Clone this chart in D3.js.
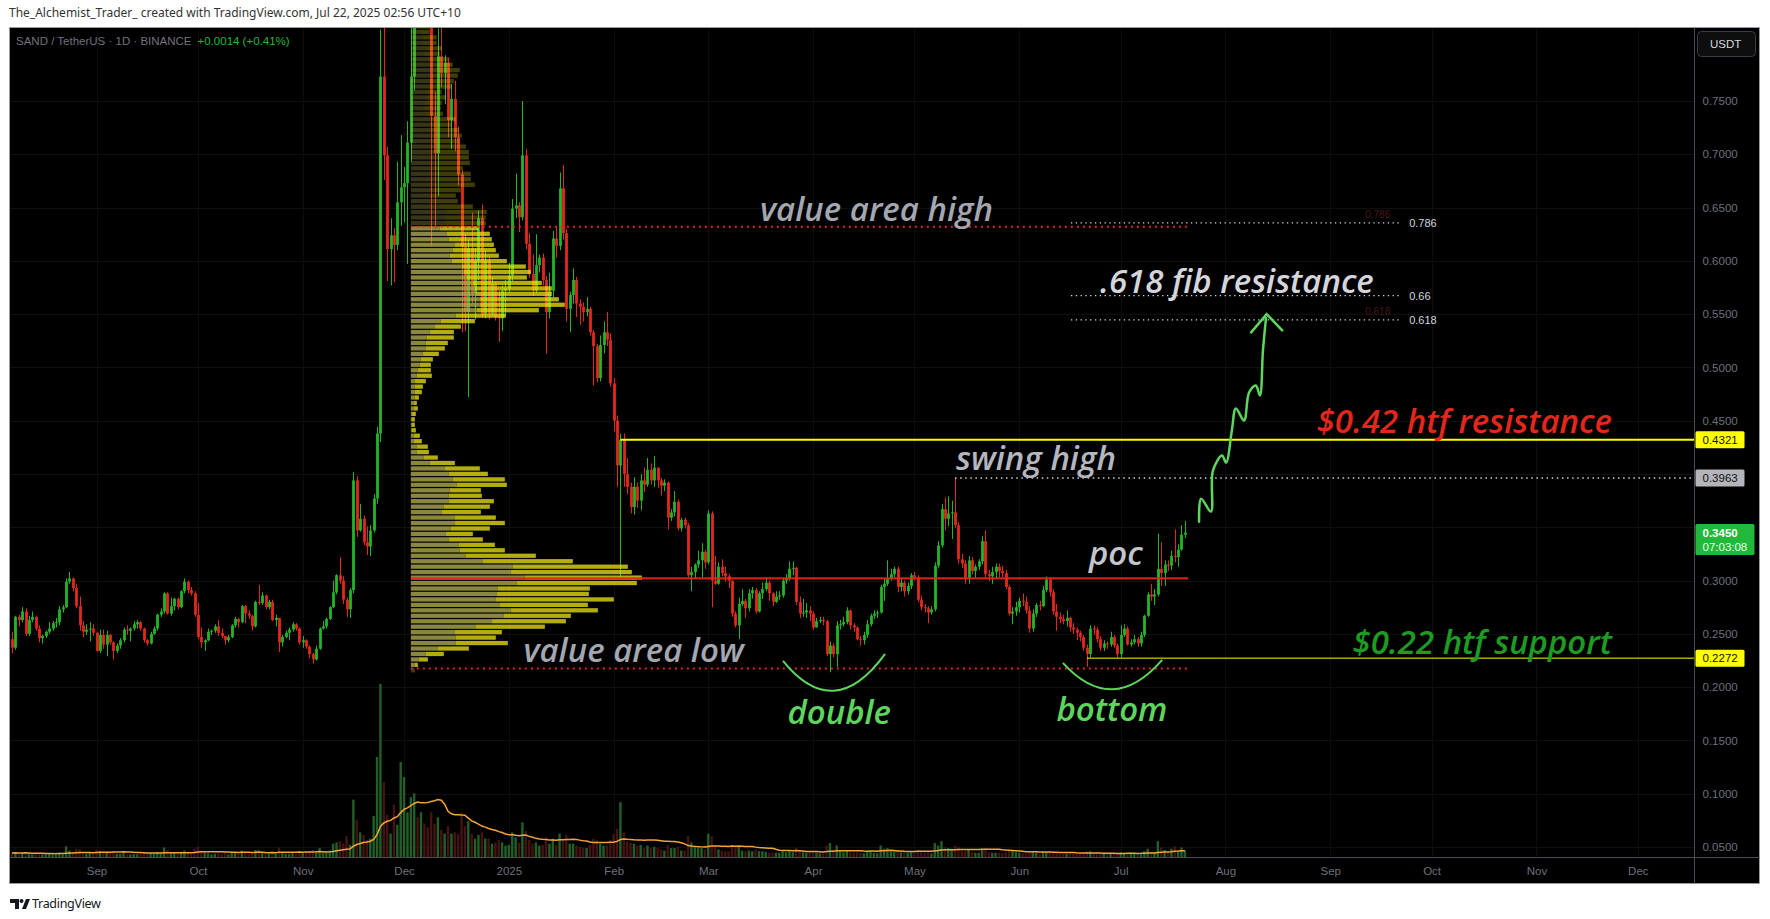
<!DOCTYPE html>
<html><head><meta charset="utf-8">
<script src="https://cdn.jsdelivr.net/npm/d3@7"></script>
<style>
body{margin:0;background:#fff;}
svg{display:block;}
.ann{font-family:"Open Sans",sans-serif;font-style:italic;font-weight:600;}
.ax{font-family:"Liberation Sans",Arial,sans-serif;}
</style></head>
<body>
<svg id="chart" width="1770" height="919"></svg>
<script>
// ---------------- DATA ----------------
const firstDay = "2024-08-07";   // date of first daily candle
const firstOpen = 0.245;
const closes = [
.237,.266,.263,.271,.250,.263,.266,.255,.246,.248,
.252,.255,.260,.261,.273,.275,.299,.302,.293,.276,
.258,.252,.254,.255,.251,.234,.249,.240,.249,.242,
.234,.239,.244,.254,.253,.255,.259,.261,.255,.244,
.241,.250,.255,.268,.271,.288,.269,.276,.283,.275,
.290,.299,.291,.288,.268,.247,.242,.244,.252,.253,
.257,.251,.248,.244,.247,.258,.264,.261,.276,.269,
.267,.257,.280,.279,.286,.275,.280,.263,.265,.242,
.247,.251,.254,.259,.255,.242,.244,.238,.231,.226,
.236,.255,.257,.264,.275,.289,.305,.300,.282,.273,
.291,.394,.347,.358,.336,.332,.347,.377,.438,.773,
.699,.611,.624,.615,.655,.669,.673,.711,.773,.880,
.850,.900,.870,.845,.736,.701,.792,.776,.786,.732,
.752,.716,.681,.613,.552,.612,.570,.600,.640,.550,
.600,.550,.578,.547,.546,.572,.574,.586,.649,.652,
.641,.699,.616,.588,.572,.596,.603,.582,.552,.572,
.621,.614,.668,.626,.555,.568,.582,.560,.557,.552,
.555,.533,.520,.490,.521,.533,.526,.485,.450,.408,
.432,.400,.388,.369,.388,.375,.394,.390,.404,.394,
.406,.394,.389,.392,.359,.364,.374,.349,.357,.352,
.305,.308,.315,.319,.327,.317,.363,.300,.297,.313,
.307,.304,.300,.269,.258,.278,.281,.274,.288,.291,
.271,.288,.292,.298,.288,.280,.285,.286,.300,.302,
.311,.312,.280,.269,.270,.272,.269,.256,.262,.263,
.262,.231,.239,.231,.258,.259,.261,.272,.258,.256,
.245,.244,.249,.259,.267,.269,.270,.294,.297,.302,
.306,.311,.294,.298,.290,.295,.305,.303,.282,.275,
.274,.270,.273,.314,.333,.367,.358,.363,.364,.352,
.320,.316,.302,.319,.309,.313,.318,.337,.306,.304,
.308,.313,.309,.307,.294,.269,.271,.275,.281,.280,
.272,.255,.269,.277,.276,.291,.301,.289,.271,.266,
.264,.262,.265,.256,.254,.251,.247,.237,.231,.255,
.254,.245,.237,.241,.240,.247,.239,.231,.249,.255,
.240,.242,.245,.241,.249,.267,.287,.285,.287,.311,
.307,.315,.314,.323,.322,.329,.343,.345];
const highs = [
.252,.267,.268,.275,.274,.267,.271,.267,.258,.249,
.253,.261,.262,.265,.276,.277,.302,.308,.303,.297,
.285,.262,.259,.261,.259,.252,.254,.254,.253,.250,
.243,.241,.246,.256,.258,.256,.262,.263,.262,.256,
.245,.252,.257,.269,.274,.289,.289,.284,.284,.284,
.291,.302,.300,.294,.290,.279,.256,.245,.255,.254,
.259,.263,.255,.248,.249,.259,.266,.265,.277,.277,
.272,.268,.281,.296,.289,.287,.282,.282,.268,.265,
.249,.253,.256,.261,.260,.256,.248,.245,.239,.232,
.239,.256,.262,.265,.276,.300,.306,.322,.304,.284,
.293,.402,.398,.372,.361,.351,.352,.381,.444,.817,
.860,.707,.640,.631,.693,.718,.688,.731,.830,.930,
.920,.955,.920,.890,.850,.758,.818,.830,.793,.791,
.766,.769,.726,.685,.625,.620,.645,.612,.647,.653,
.610,.604,.585,.580,.572,.577,.582,.598,.658,.682,
.655,.750,.705,.626,.606,.625,.606,.607,.586,.589,
.628,.632,.683,.690,.630,.571,.593,.585,.564,.561,
.566,.557,.535,.522,.530,.543,.552,.532,.490,.455,
.438,.438,.415,.392,.397,.392,.400,.406,.415,.410,
.417,.406,.396,.395,.393,.367,.384,.376,.359,.359,
.354,.313,.316,.328,.335,.329,.366,.365,.323,.317,
.320,.313,.306,.300,.271,.284,.292,.283,.292,.294,
.293,.290,.298,.303,.300,.289,.290,.290,.302,.306,
.318,.318,.313,.285,.283,.279,.276,.271,.265,.266,
.266,.263,.243,.241,.262,.263,.266,.275,.273,.260,
.257,.248,.252,.263,.269,.272,.272,.296,.302,.319,
.311,.313,.313,.302,.300,.298,.307,.308,.305,.286,
.278,.276,.276,.317,.337,.372,.378,.379,.375,.3963,
.355,.325,.319,.323,.322,.315,.320,.342,.347,.310,
.313,.316,.316,.314,.310,.296,.275,.280,.284,.288,
.285,.276,.273,.279,.281,.295,.304,.303,.292,.278,
.270,.268,.272,.266,.260,.256,.253,.249,.240,.258,
.258,.256,.248,.244,.243,.252,.249,.241,.258,.259,
.257,.245,.249,.247,.252,.268,.289,.297,.292,.344,
.336,.319,.319,.328,.348,.334,.352,.356];
const lows = [
.232,.235,.257,.261,.248,.248,.261,.253,.242,.241,
.246,.250,.253,.256,.258,.270,.274,.297,.290,.274,
.253,.247,.249,.243,.248,.233,.232,.236,.229,.240,
.226,.232,.236,.242,.249,.243,.253,.255,.253,.242,
.239,.240,.249,.253,.266,.269,.268,.267,.272,.273,
.274,.288,.288,.286,.266,.245,.237,.234,.243,.249,
.251,.248,.246,.240,.242,.246,.256,.256,.260,.260,
.264,.253,.256,.277,.277,.273,.273,.262,.257,.233,
.238,.246,.244,.252,.253,.240,.237,.236,.227,.222,
.225,.235,.254,.255,.263,.274,.287,.297,.278,.266,
.265,.288,.341,.346,.333,.324,.323,.345,.372,.430,
.676,.581,.577,.580,.610,.633,.636,.597,.693,.760,
.828,.835,.835,.825,.614,.632,.661,.763,.747,.716,
.705,.703,.671,.533,.534,.472,.560,.545,.582,.547,
.546,.545,.548,.544,.524,.534,.548,.570,.581,.640,
.627,.638,.611,.584,.567,.570,.589,.577,.513,.546,
.566,.603,.610,.620,.543,.533,.560,.547,.540,.543,
.548,.530,.483,.486,.487,.513,.520,.482,.440,.388,
.303,.388,.381,.363,.362,.368,.366,.383,.388,.390,
.388,.387,.380,.384,.348,.356,.360,.347,.346,.349,
.303,.290,.302,.312,.303,.311,.315,.275,.296,.296,
.304,.299,.293,.266,.256,.245,.276,.265,.271,.283,
.269,.270,.283,.290,.281,.276,.279,.282,.284,.297,
.300,.305,.277,.265,.266,.265,.262,.254,.256,.260,
.258,.229,.214,.228,.219,.254,.257,.259,.254,.252,
.244,.239,.240,.246,.257,.264,.265,.269,.281,.295,
.300,.303,.289,.290,.285,.287,.292,.300,.280,.272,
.270,.260,.268,.271,.312,.331,.347,.351,.339,.349,
.316,.312,.297,.297,.306,.302,.310,.315,.303,.300,
.297,.302,.303,.303,.292,.267,.259,.267,.270,.276,
.269,.251,.252,.266,.272,.275,.289,.285,.268,.253,
.260,.259,.257,.252,.250,.244,.243,.234,.219,.228,
.249,.242,.234,.234,.236,.238,.237,.228,.228,.247,
.239,.238,.240,.238,.238,.247,.266,.281,.277,.285,
.295,.295,.309,.310,.317,.313,.328,.340];
// daily volume, millions of SAND
const volumes = [
35,40,30,35,45,30,25,30,35,25, 25,30,25,20,40,25,90,55,40,70,
65,40,30,35,30,60,50,40,45,35, 45,30,30,40,25,25,30,25,30,40,
30,35,30,45,35,80,60,40,35,30, 45,55,40,30,70,85,55,40,35,25,
30,35,30,35,25,40,40,30,55,40, 30,40,60,65,40,45,30,50,30,80,
45,30,30,35,30,55,35,40,50,60, 50,75,40,40,55,110,120,130,110,170,
100,460,300,200,180,140,150,330,800,1380, 600,340,190,420,260,760,640,360,480,510,
320,360,270,240,360,270,320,220,190,250, 190,200,190,360,250,290,190,150,180,200,
150,150,110,120,140,120,95,100,200,160, 120,280,210,140,110,120,95,100,160,110,
150,100,190,140,180,110,110,95,85,75, 75,100,150,140,110,95,100,140,190,230,
440,200,130,120,110,95,100,75,95,75, 85,75,65,55,100,75,75,85,55,55,
170,120,85,75,75,65,190,170,95,65, 55,50,50,100,95,85,55,50,55,50,
65,50,50,45,40,40,38,38,50,42, 50,42,75,55,42,38,42,50,38,33,
33,95,115,55,95,50,42,50,42,38, 42,38,33,42,50,38,33,95,70,75,
50,50,60,42,42,38,42,38,60,42, 38,42,33,115,95,130,85,75,70,95,
85,50,50,60,42,38,38,70,75,42, 38,38,38,33,42,70,50,42,38,38,
33,50,42,38,28,42,42,42,42,38, 28,28,28,33,28,28,28,33,50,50,
33,28,33,28,28,28,28,33,42,38, 33,28,28,28,33,50,70,42,42,130,
80,60,42,70,90,50,80,55];
const volMaLength = 20;

// fixed-range volume profile (rows from the bottom price upward)
const profileFrom = 118, profileTo = 347;       // candle indices of the range
const profileBottom = 0.2132, profileRowSize = 0.00512;
const profileUp = [2,4,8,15,27,45,45,44,65,81, 93,100,89,85,86,87,106,114,100,102,
72,55,49,48,38,35,40,44,44,31, 33,38,38,39,46,42,38,34,19,13, 6,6,3,3,1,1,1,1,3,3,
4,4,4,4,6,7,9,10,12,15, 15,16,19,24,30,45,66,69,69,65, 64,62,56,53,51,41,39,42,44,38,
36,29,34,33,35,28,21,20,23,29, 27,26,24,27,26,25,25,22,23,21, 19,20,14,13,14,16,14,18,19,21,
22,19,17,13,14,12,12,9,9];
const profileDown = [2,3,9,18,31,52,40,47,69,74, 67,87,88,118,92,92,120,117,121,115,
90,70,45,36,34,27,39,50,41,39, 46,45,33,31,50,52,39,35,25,14, 12,11,8,6,4,3,3,4,4,3,
4,7,8,11,15,13,11,12,16,19, 22,27,24,26,34,50,62,85,79,76, 77,69,60,67,64,55,49,43,39,43,
43,39,41,42,41,34,26,25,27,35, 33,34,28,32,32,33,30,27,28,27, 22,25,18,17,17,19,17,23,24,26,
27,23,20,16,17,14,14,10,10];
const valueAreaHigh = 0.6319, pocPrice = 0.3020, valueAreaLow = 0.2174;

const htfResistance = 0.4321, swingHigh = 0.3963, htfSupport = 0.2272, lastPrice = 0.3450;
const fibLow = 0.2094, fibHigh = 0.7517;
const fibRatios = [0.786, 0.66, 0.618];
const fibLabels = ["0.786", "0.66", "0.618"];
const fibGhostRatios = [0.786, 0.618];   // faint labels of a second fib tool
const fibGhostLabels = ["0.786", "0.618"];

const priceTicks = [0.05,0.10,0.15,0.20,0.25,0.30,0.35,0.40,0.45,0.50,0.55,0.60,0.65,0.70,0.75];
const monthTicks = ["2024-09-01","2024-10-01","2024-11-01","2024-12-01","2025-01-01","2025-02-01","2025-03-01",
  "2025-04-01","2025-05-01","2025-06-01","2025-07-01","2025-08-01","2025-09-01","2025-10-01","2025-11-01","2025-12-01"];
const monthLabels = ["Sep","Oct","Nov","Dec","2025","Feb","Mar","Apr","May","Jun","Jul","Aug","Sep","Oct","Nov","Dec"];

// text drawings: [text, candle index position, price position, colour]
const notes = [
  ["value area high", 221.3, 0.6485, "#a4a7b0"],
  [".618 fib resistance", 321.9, 0.5808, "#d4d6dc"],
  ["$0.42 htf resistance", 386.0, 0.4492, "#e3271d"],
  ["swing high", 279.3, 0.4145, "#b4b7bf"],
  ["poc", 318.6, 0.3252, "#c4c6cc"],
  ["value area low", 151.3, 0.2340, "#a4a7b0"],
  ["$0.22 htf support", 396.6, 0.2415, "#1e9b22"],
  ["double", 229.4, 0.1758, "#5ed65e"],
  ["bottom", 309.0, 0.1786, "#5ed65e"]
];
// curved "bottom" marks: [start idx, start price, control idx, control price, end idx, end price]
const arcs = [
  [228.1, 0.2246, 243.2, 0.1653, 258.3, 0.2312],
  [310.9, 0.2227, 325.5, 0.1718, 340.3, 0.2256]
];
// hand drawn arrow path [idx, price]
const squiggle = [[351.2,0.3553],[351.8,0.3769],[354.7,0.3647],[355.3,0.4032],[358.0,0.4173],[359.2,0.4107],
  [360.9,0.4408],[362.1,0.4615],[364.5,0.4502],[366.0,0.4765],[368.0,0.4831],[369.2,0.4737],[370.1,0.5160],[371.0,0.5461]];
const arrowHead = [[366.6,0.5329],[371.2,0.5500],[375.8,0.5348]];

// ---------------- CHART ----------------
const svg = d3.select("#chart");
const L = 9.5, T = 27.5, R = 1694.5, B = 857.5, OR = 1759.5, OB = 883.5;
const parse = d3.utcParse("%Y-%m-%d");
const day0 = parse(firstDay);
const dateOf = i => new Date(day0.getTime() + i * 86400000);

const x = d3.scaleUtc().domain([parse("2024-09-01"), parse("2025-12-01")]).range([96.5, 1637.8]);
const xi = i => x(dateOf(i));
const y = d3.scaleLinear().domain([0.05, 0.75]).range([847, 101]);
const yVol = d3.scaleLinear().domain([0, 1380]).range([B, 684]);

const candles = closes.map((c, i) => ({i, o: i ? closes[i-1] : firstOpen, c, h: highs[i], l: lows[i], v: volumes[i]}));

// background and frame
svg.append("rect").attr("x", 0).attr("y", 0).attr("width", 1770).attr("height", 919).attr("fill", "#fff");
svg.append("rect").attr("x", L).attr("y", T).attr("width", OR - L).attr("height", OB - T)
  .attr("fill", "#000").attr("stroke", "#9a9ca3").attr("stroke-width", 1);

svg.append("text").attr("x", 9).attr("y", 17)
  .attr("font-size", 12).attr("fill", "#333").attr("font-family", "Noto Sans, sans-serif")
  .text("The_Alchemist_Trader_ created with TradingView.com, Jul 22, 2025 02:56 UTC+10");

const defs = svg.append("defs");
defs.append("clipPath").attr("id", "plot").append("rect").attr("x", L + 0.5).attr("y", T + 0.5)
  .attr("width", R - L - 1).attr("height", B - T - 1);
const plot = svg.append("g").attr("clip-path", "url(#plot)");

// grid
plot.append("g").selectAll("line").data(priceTicks).join("line")
  .attr("x1", L).attr("x2", R).attr("y1", d => Math.round(y(d)) + 0.5).attr("y2", d => Math.round(y(d)) + 0.5)
  .attr("stroke", "#101010");
plot.append("g").selectAll("line").data(monthTicks).join("line")
  .attr("y1", T).attr("y2", B).attr("x1", d => Math.round(x(parse(d))) + 0.5).attr("x2", d => Math.round(x(parse(d))) + 0.5)
  .attr("stroke", "#0d0d0d");

// volume
const bw = 2.4;
plot.append("g").selectAll("rect").data(candles).join("rect")
  .attr("x", d => xi(d.i) - bw/2).attr("width", bw)
  .attr("y", d => yVol(d.v)).attr("height", d => B - yVol(d.v))
  .attr("fill", d => d.c >= d.o ? "#215f27" : "#461313");
const ma = candles.map((d, i) => ({i, m: d3.mean(volumes.slice(Math.max(0, i - volMaLength + 1), i + 1))}));
plot.append("path").datum(ma).attr("fill", "none").attr("stroke", "#f2a43a").attr("stroke-width", 1.5)
  .attr("d", d3.line().x(d => xi(d.i)).y(d => yVol(d.m)));

// candles
const up = "#20b626", dn = "#e3271d";
const cg = plot.append("g");
cg.selectAll("line").data(candles).join("line")
  .attr("x1", d => Math.round(xi(d.i)) + 0.5).attr("x2", d => Math.round(xi(d.i)) + 0.5)
  .attr("y1", d => y(Math.max(d.h, d.o, d.c))).attr("y2", d => y(Math.min(d.l, d.o, d.c)))
  .attr("stroke", d => d.c >= d.o ? up : dn).attr("stroke-width", 1);
cg.selectAll("rect").data(candles).join("rect")
  .attr("x", d => Math.round(xi(d.i)) + 0.5 - 1.4).attr("width", 2.8)
  .attr("y", d => y(Math.max(d.o, d.c))).attr("height", d => Math.max(1, Math.abs(y(d.o) - y(d.c))))
  .attr("fill", d => d.c >= d.o ? up : dn);

// volume profile
const rows = profileUp.map((u, k) => ({k, u, d: profileDown[k], lo: profileBottom + k * profileRowSize, hi: profileBottom + (k + 1) * profileRowSize}));
const maxRow = d3.max(rows, r => r.u + r.d);
const px = d3.scaleLinear().domain([0, maxRow]).range([0, 231]);
const vpX = xi(profileFrom);
const inVA = r => (r.lo + r.hi) / 2 > valueAreaLow && (r.lo + r.hi) / 2 < valueAreaHigh;
const vp = plot.append("g");
rows.forEach(r => {
  const yt = y(r.hi) + 0.6, h = Math.max(1, y(r.lo) - y(r.hi) - 1.2);
  vp.append("rect").attr("x", vpX).attr("y", yt).attr("width", px(r.u)).attr("height", h)
    .attr("fill", inVA(r) ? "rgba(182,178,82,0.76)" : "rgba(182,178,82,0.30)");
  vp.append("rect").attr("x", vpX + px(r.u)).attr("y", yt).attr("width", px(r.d)).attr("height", h)
    .attr("fill", inVA(r) ? "rgba(236,228,22,0.76)" : "rgba(236,228,22,0.27)");
});

// value area lines
const vEnd = xi(profileTo + 1);
plot.append("line").attr("x1", vpX).attr("x2", vEnd).attr("y1", y(valueAreaHigh)).attr("y2", y(valueAreaHigh))
  .attr("stroke", "#e3271d").attr("stroke-width", 2).attr("stroke-dasharray", "2,4");
plot.append("line").attr("x1", vpX).attr("x2", vEnd).attr("y1", y(valueAreaLow)).attr("y2", y(valueAreaLow))
  .attr("stroke", "#e3271d").attr("stroke-width", 2).attr("stroke-dasharray", "2,4");
plot.append("line").attr("x1", vpX).attr("x2", vEnd).attr("y1", y(pocPrice)).attr("y2", y(pocPrice))
  .attr("stroke", "#e3271d").attr("stroke-width", 2.2).attr("stroke-opacity", 0.9);

// horizontal levels
plot.append("line").attr("x1", xi(180)).attr("x2", R).attr("y1", y(htfResistance)).attr("y2", y(htfResistance))
  .attr("stroke", "#ffff00").attr("stroke-width", 2);
plot.append("line").attr("x1", xi(279)).attr("x2", R).attr("y1", y(swingHigh)).attr("y2", y(swingHigh))
  .attr("stroke", "#cfd1d6").attr("stroke-width", 1.5).attr("stroke-dasharray", "1.5,3.6");
plot.append("line").attr("x1", xi(318)).attr("x2", R).attr("y1", y(htfSupport)).attr("y2", y(htfSupport))
  .attr("stroke", "#ffff00").attr("stroke-width", 1);

// fib levels
const fibX1 = xi(313.3), fibX2 = xi(411);
fibGhostRatios.forEach((r, k) => {
  const p = fibLow + r * (fibHigh - fibLow);
  plot.append("text").attr("x", fibX2 - 36).attr("y", y(p) - 5).attr("class", "ax")
    .attr("font-size", 10).attr("fill", "#4a1515").text(fibGhostLabels[k]);
});
fibRatios.forEach((r, k) => {
  const p = fibLow + r * (fibHigh - fibLow);
  plot.append("line").attr("x1", fibX1).attr("x2", fibX2).attr("y1", y(p)).attr("y2", y(p))
    .attr("stroke", "#d6d8dd").attr("stroke-width", 1.3).attr("stroke-dasharray", "1.3,3.5");
  plot.append("text").attr("x", fibX2 + 8).attr("y", y(p)).attr("dy", "0.35em").attr("class", "ax")
    .attr("font-size", 11).attr("fill", "#d6d8dd").text(fibLabels[k]);
});

// notes
notes.forEach(n => {
  plot.append("text").attr("class", "ann").attr("x", xi(n[1])).attr("y", y(n[2])).attr("dy", "0.35em")
    .attr("font-size", 33).attr("fill", n[3]).text(n[0]);
});
arcs.forEach(a => {
  plot.append("path").attr("fill", "none").attr("stroke", "#5ed65e").attr("stroke-width", 2)
    .attr("d", `M${xi(a[0])},${y(a[1])} Q${xi(a[2])},${y(a[3])} ${xi(a[4])},${y(a[5])}`);
});
const ln = d3.line().x(d => xi(d[0])).y(d => y(d[1])).curve(d3.curveCatmullRom);
plot.append("path").datum(squiggle).attr("fill", "none").attr("stroke", "#5ed65e").attr("stroke-width", 2.5)
  .attr("stroke-linecap", "round").attr("d", ln);
plot.append("path").datum(arrowHead).attr("fill", "none").attr("stroke", "#5ed65e").attr("stroke-width", 2.5)
  .attr("stroke-linecap", "round").attr("d", d3.line().x(d => xi(d[0])).y(d => y(d[1])));

// axes separators
svg.append("line").attr("x1", R).attr("x2", R).attr("y1", T).attr("y2", OB).attr("stroke", "#4a4d55");
svg.append("line").attr("x1", L).attr("x2", OR).attr("y1", B).attr("y2", B).attr("stroke", "#4a4d55");

// price tags (their boxes hide the axis labels behind them)
const tags = [
  {v: htfResistance, bg: "#ffff00", fg: "#111"},
  {v: swingHigh, bg: "#b3b5bb", fg: "#111"},
  {v: lastPrice, bg: "#22b83a", fg: "#fff", second: "07:03:08"},
  {v: htfSupport, bg: "#ffff00", fg: "#111"}
];
const hidden = t => tags.some(g => Math.abs(y(g.v) - y(t)) < (g.second ? 14 : 13) || (g.second && y(t) > y(g.v) && y(t) - y(g.v) < 26));

// price axis
const ya = svg.append("g").attr("transform", `translate(${R},0)`)
  .call(d3.axisRight(y).tickValues(priceTicks.filter(t => !hidden(t))).tickSize(0).tickPadding(8).tickFormat(d3.format(".4f")));
ya.select(".domain").remove();
ya.selectAll("text").attr("fill", "#6e717a").attr("font-size", 11.5).attr("font-family", "Liberation Sans, Arial, sans-serif");

// time axis
const xa = svg.append("g").attr("transform", `translate(0,${B})`)
  .call(d3.axisBottom(x).tickValues(monthTicks.map(parse)).tickSize(0).tickPadding(9)
    .tickFormat((d, k) => monthLabels[k]));
xa.select(".domain").remove();
xa.selectAll("text").attr("fill", "#6e717a").attr("font-size", 11.5).attr("font-family", "Liberation Sans, Arial, sans-serif");

tags.forEach(t => {
  const g = svg.append("g");
  const h = t.second ? 31 : 17, top = y(t.v) - 8.5;
  g.append("rect").attr("x", R + 1).attr("y", top).attr("width", t.second ? 59 : 49).attr("height", h)
    .attr("rx", 1.5).attr("fill", t.bg);
  g.append("text").attr("x", R + 8).attr("y", y(t.v)).attr("dy", "0.35em").attr("font-size", 11.5)
    .attr("font-family", "Liberation Sans, Arial, sans-serif").attr("fill", t.fg)
    .attr("font-weight", t.second ? 700 : 400).text(d3.format(".4f")(t.v));
  if (t.second) g.append("text").attr("x", R + 8).attr("y", y(t.v) + 14).attr("dy", "0.35em").attr("font-size", 11.5)
    .attr("font-family", "Liberation Sans, Arial, sans-serif").attr("fill", "#e8ffe8").text(t.second);
});

// currency button
svg.append("rect").attr("x", 1697.5).attr("y", 31.5).attr("width", 58).attr("height", 25).attr("rx", 4)
  .attr("fill", "#0e0e0e").attr("stroke", "#3a3d45");
svg.append("text").attr("x", 1710).attr("y", 44).attr("dy", "0.35em").attr("font-size", 11.5)
  .attr("font-family", "Liberation Sans, Arial, sans-serif").attr("fill", "#d8d9dd").text("USDT");

// legend
const lg = svg.append("text").attr("x", 16).attr("y", 41).attr("dy", "0.35em").attr("font-size", 11.5)
  .attr("font-family", "Liberation Sans, Arial, sans-serif");
lg.append("tspan").attr("fill", "#70737c").text("SAND / TetherUS · 1D · BINANCE");
lg.append("tspan").attr("fill", "#22b83a").attr("dx", 6).text("+0.0014 (+0.41%)");

// footer logo
const logo = svg.append("g").attr("fill", "#131722");
logo.append("path").attr("d", "M10,899 h9 v10 h-4 v-6 h-5 z");
logo.append("circle").attr("cx", 21.5).attr("cy", 901).attr("r", 2);
logo.append("path").attr("d", "M22,909 l4,-10 h4 l-4,10 z");
svg.append("text").attr("x", 32).attr("y", 904).attr("dy", "0.35em").attr("font-size", 12.5)
  .attr("font-family", "Noto Sans, sans-serif").attr("fill", "#131722").attr("letter-spacing", -0.3).text("TradingView");
</script>
</body></html>
